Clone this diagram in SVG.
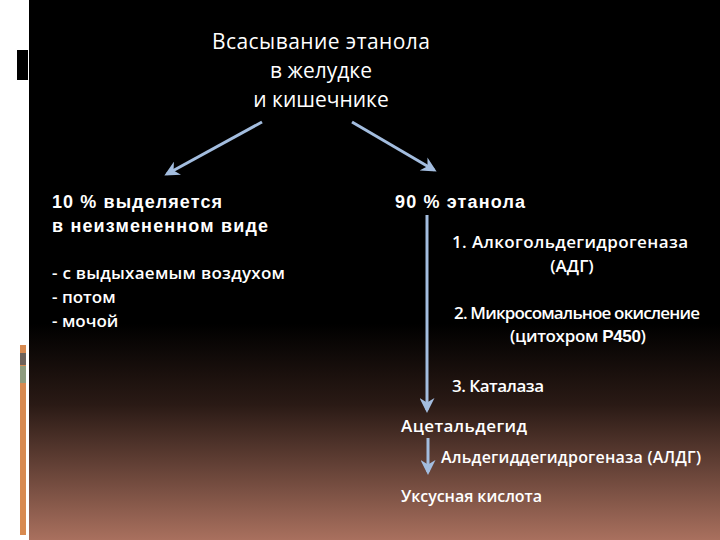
<svg xmlns="http://www.w3.org/2000/svg" width="720" height="540" viewBox="0 0 720 540">
<defs>
<linearGradient id="bg" x1="0" y1="0" x2="0" y2="1">
<stop offset="0" stop-color="#000"/><stop offset="0.6" stop-color="#000"/><stop offset="0.75" stop-color="#2a1a15"/><stop offset="1" stop-color="#a9705e"/>
</linearGradient>
<marker id="ah" viewBox="0 0 10 10" refX="8" refY="5" markerWidth="5" markerHeight="5" orient="auto"><path d="M0,0 L10,5 L0,10 L3,5 Z" fill="#a3bddf"/></marker>
<style>
.t{fill:#fff;font-family:"Open Sans","Noto Sans",sans-serif;font-size:17px;font-weight:600}
.b{fill:#fff;font-family:"Liberation Sans",Arial,sans-serif;font-size:18px;font-weight:bold}
.c{stroke:#a3bddf;stroke-width:3;fill:none;marker-end:url(#ah)}
</style>
</defs>
<rect width="720" height="540" fill="#fff"/>
<rect x="29" width="691" height="540" fill="url(#bg)"/>
<rect x="17" y="50" width="11" height="30" fill="#000"/>
<rect x="20" y="345" width="6" height="190" fill="#d88a50"/>
<rect x="20" y="353" width="6" height="12" fill="#6e625a"/>
<rect x="20" y="366" width="6" height="17" fill="#8e9c7e"/>
<g id="connectors">
<line class="c" x1="262" y1="122" x2="167" y2="174"/>
<line class="c" x1="352" y1="122" x2="434" y2="170"/>
<line class="c" x1="427" y1="215" x2="427" y2="410"/>
<line class="c" x1="428" y1="438" x2="428" y2="472"/>
</g>
<g id="top" class="t" text-anchor="middle" style="font-size:21px;font-weight:500">
<text x="321" y="49" textLength="218">Всасывание этанола</text>
<text x="321" y="78">в желудке</text>
<text x="321" y="107">и кишечнике</text>
</g>
<g id="left">
<text class="b" x="52" y="208" textLength="170">10 % выделяется</text>
<text class="b" x="52" y="232" textLength="216">в неизмененном виде</text>
<text class="t" x="52" y="279" textLength="233">- с выдыхаемым воздухом</text>
<text class="t" x="52" y="303">- потом</text>
<text class="t" x="52" y="327">- мочой</text>
</g>
<g id="right">
<text class="b" x="395" y="208" textLength="130">90 % этанола</text>
<text class="t" x="452" y="248" textLength="236">1. Алкогольдегидрогеназа</text>
<text class="t" x="572" y="272" text-anchor="middle">(АДГ)</text>
<text class="t" x="454" y="319" textLength="246">2. Микросомальное окисление</text>
<text class="t" x="510" y="342" textLength="136">(цитохром <tspan style="font-family:'Liberation Sans',sans-serif;font-weight:bold">Р450</tspan>)</text>
<text class="t" x="452" y="392" textLength="92">3. Каталаза</text>
</g>
<g id="acet"><text class="t" x="401" y="432" textLength="126">Ацетальдегид</text></g>
<g id="aldg"><text class="t" x="441" y="463" textLength="260" style="font-size:16px">Альдегиддегидрогеназа (АЛДГ)</text></g>
<g id="acid"><text class="t" x="401" y="502" textLength="141" style="font-size:16px">Уксусная кислота</text></g>
</svg>
